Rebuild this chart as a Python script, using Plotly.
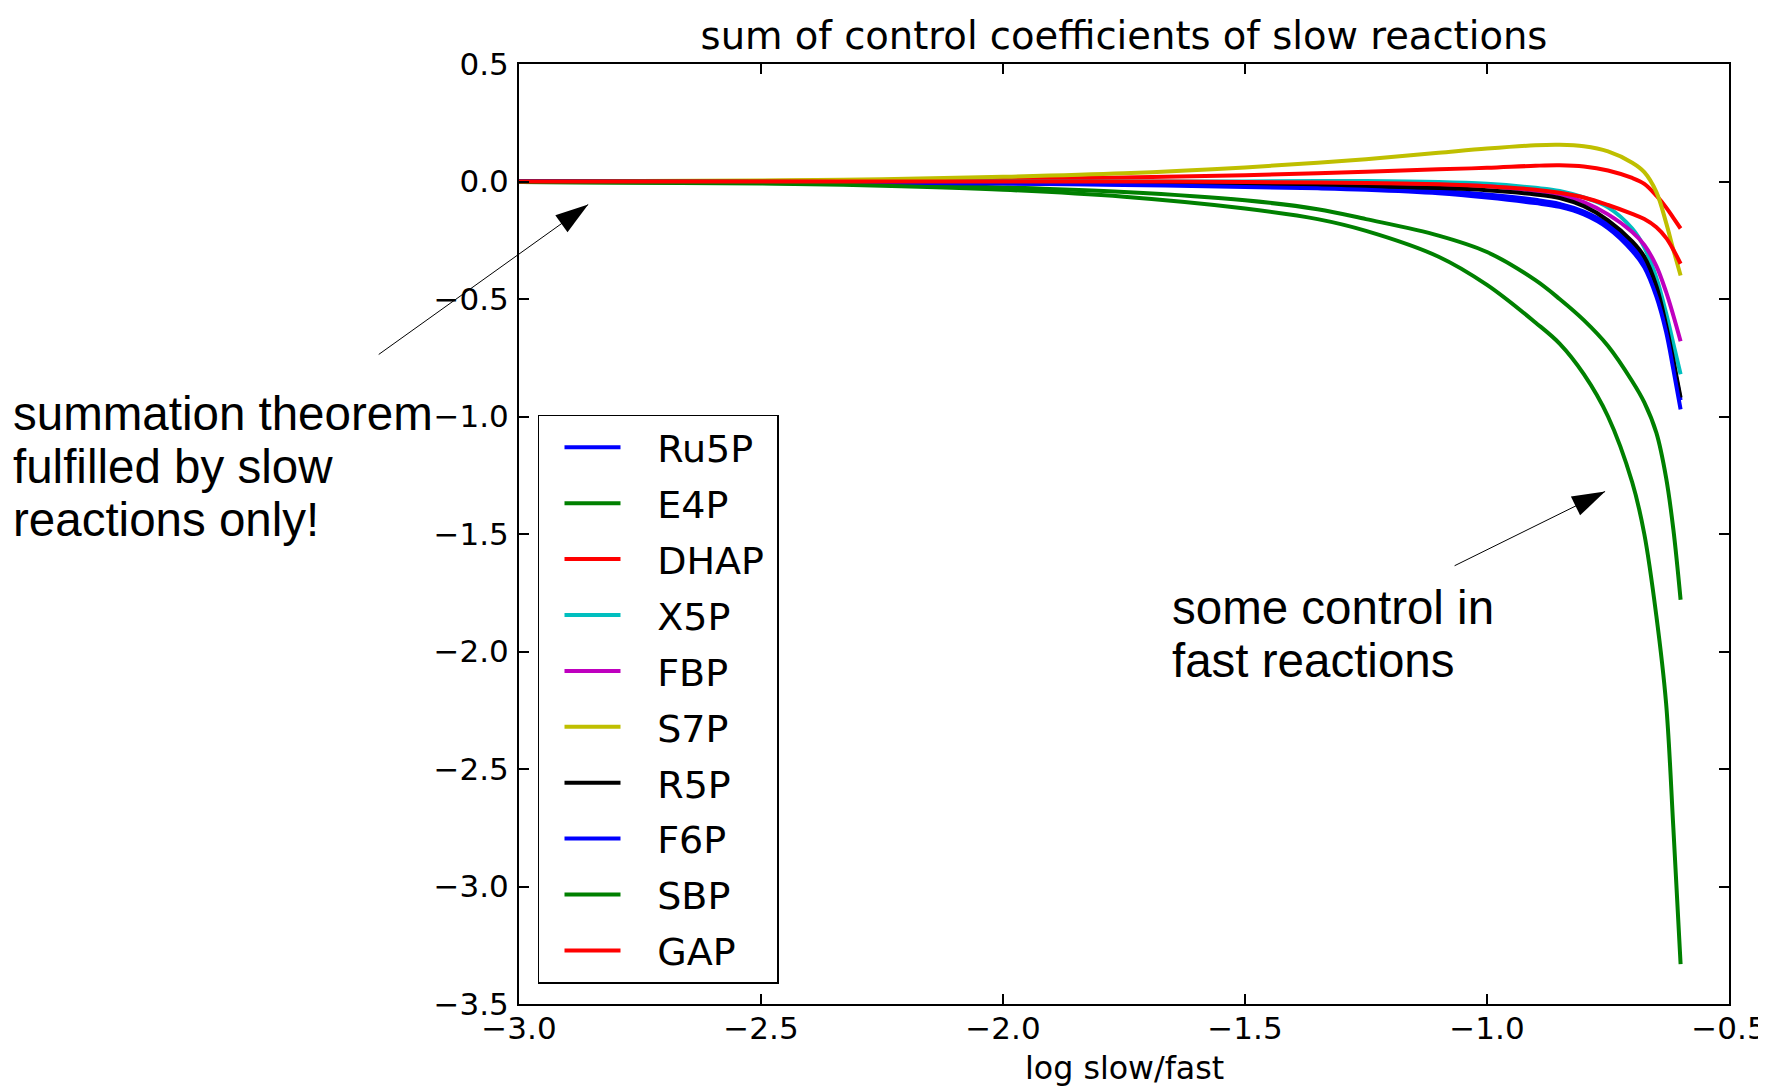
import plotly.graph_objects as go

# log slow/fast sample points
log_ratio = [-3.0, -2.5, -2.25, -2.0, -1.75, -1.5, -1.35, -1.25, -1.1, -1.0, -0.9, -0.85,
             -0.8, -0.75, -0.7, -0.675, -0.65, -0.63, -0.615, -0.6]

# sum of control coefficients of slow reactions, one list per metabolite
ru5p = [0.0, -0.002, -0.004, -0.007, -0.012, -0.019, -0.024, -0.029, -0.04, -0.055, -0.078, -0.095,
        -0.128, -0.183, -0.275, -0.345, -0.47, -0.62, -0.77, -0.93]
e4p = [-0.002, -0.006, -0.012, -0.025, -0.045, -0.08, -0.118, -0.16, -0.23, -0.3, -0.42, -0.5,
       -0.59, -0.7, -0.85, -0.94, -1.07, -1.26, -1.48, -1.78]
dhap = [0.0, 0.002, 0.005, 0.01, 0.017, 0.027, 0.035, 0.042, 0.052, 0.058, 0.067, 0.069,
        0.064, 0.047, 0.015, -0.01, -0.06, -0.11, -0.155, -0.2]
x5p = [0.0, 0.0, 0.0, 0.0, 0.0, 0.0, 0.002, 0.002, -0.002, -0.01, -0.027, -0.04,
       -0.068, -0.11, -0.2, -0.28, -0.41, -0.56, -0.69, -0.82]
fbp = [0.0, 0.0, -0.001, -0.002, -0.004, -0.006, -0.008, -0.01, -0.014, -0.02, -0.04, -0.055,
       -0.088, -0.14, -0.215, -0.27, -0.36, -0.47, -0.57, -0.68]
s7p = [0.0, 0.004, 0.01, 0.02, 0.035, 0.06, 0.08, 0.095, 0.122, 0.14, 0.154, 0.156,
       0.15, 0.128, 0.08, 0.04, -0.045, -0.175, -0.29, -0.4]
r5p = [0.0, -0.001, -0.003, -0.005, -0.009, -0.014, -0.018, -0.021, -0.028, -0.037, -0.055, -0.07,
       -0.105, -0.165, -0.255, -0.32, -0.445, -0.61, -0.76, -0.92]
f6p = [0.0, -0.002, -0.005, -0.009, -0.015, -0.023, -0.029, -0.035, -0.05, -0.068, -0.092, -0.108,
       -0.14, -0.198, -0.295, -0.365, -0.49, -0.64, -0.8, -0.97]
sbp = [-0.002, -0.008, -0.018, -0.035, -0.065, -0.115, -0.16, -0.21, -0.32, -0.44, -0.6, -0.69,
       -0.82, -1.0, -1.28, -1.5, -1.85, -2.22, -2.75, -3.33]
gap = [0.0, 0.0, 0.0, 0.0, 0.0, -0.002, -0.004, -0.006, -0.012, -0.02, -0.035, -0.048,
       -0.068, -0.1, -0.138, -0.16, -0.195, -0.24, -0.29, -0.35]

names = ['Ru5P', 'E4P', 'DHAP', 'X5P', 'FBP', 'S7P', 'R5P', 'F6P', 'SBP', 'GAP']
series = [ru5p, e4p, dhap, x5p, fbp, s7p, r5p, f6p, sbp, gap]
colors = ['#0000ff', '#008000', '#ff0000', '#00bfbf', '#bf00bf',
          '#bfbf00', '#000000', '#0000ff', '#008000', '#ff0000']

fig = go.Figure()
for name, vals, col in zip(names, series, colors):
    # non-breaking spaces leave the gap between legend line and label
    fig.add_trace(go.Scatter(x=log_ratio, y=vals, name='\u00a0\u00a0\u2009' + name + '\u2009',
                             mode='lines', legendgroup=name,
                             line=dict(color=col, width=4, shape='spline', smoothing=1.0)))

axis_style = dict(showgrid=False, zeroline=False, showline=True, linecolor='black',
                  linewidth=2, mirror='allticks', ticks='inside', ticklen=10,
                  tickwidth=1.5, tickcolor='black', dtick=0.5, tickformat='.1f',
                  automargin=False,
                  tickfont=dict(family='DejaVu Sans', size=31, color='black'))

fig.update_xaxes(range=[-3, -0.5], tick0=-3, ticklabeloverflow='allow', ticklabelstandoff=-4,
                 **axis_style)
fig.update_yaxes(range=[-3.5, 0.5], tick0=-3.5, ticklabelstandoff=2, **axis_style)

# x axis label placed below the tick labels
fig.add_annotation(text='log slow/fast', xref='paper', yref='paper', x=0.5, y=-0.0677,
                   xanchor='center', yanchor='middle', showarrow=False,
                   font=dict(family='DejaVu Sans', size=31.7, color='black'))

note_font = dict(family='Liberation Sans', size=47.5, color='black')
left_lines = ['summation theorem', 'fulfilled by slow', 'reactions only!']
for txt, yy in zip(left_lines, [0.6287, 0.5723, 0.5149]):
    fig.add_annotation(text=txt, xref='paper', yref='paper', x=-0.4201, y=yy,
                       xanchor='left', yanchor='middle', showarrow=False, font=note_font)
right_lines = ['some control in', 'fast reactions']
for txt, yy in zip(right_lines, [0.4213, 0.3649]):
    fig.add_annotation(text=txt, xref='paper', yref='paper', x=0.5379, y=yy,
                       xanchor='left', yanchor='middle', showarrow=False, font=note_font)

# arrows: thin shaft from annotation, filled head as pixel-sized path
fig.add_annotation(text='', x=-2.857, y=-0.098, ax=-211, ay=151, showarrow=True,
                   arrowhead=0, arrowwidth=1, arrowcolor='black', standoff=0)
fig.add_annotation(text='', x=-0.756, y=-1.319, ax=-152, ay=75, showarrow=True,
                   arrowhead=0, arrowwidth=1, arrowcolor='black', standoff=0)
fig.add_shape(type='path', xref='x', yref='y', xsizemode='pixel', ysizemode='pixel',
              xanchor=-2.857, yanchor=-0.098, path='M0,0 L-32.9,-10.7 L-20.7,-27.7 Z',
              fillcolor='black', line=dict(width=0))
fig.add_shape(type='path', xref='x', yref='y', xsizemode='pixel', ysizemode='pixel',
              xanchor=-0.756, yanchor=-1.319, path='M0,0 L-34.2,-5.1 L-25.0,-23.9 Z',
              fillcolor='black', line=dict(width=0))

fig.update_layout(
    width=1758, height=1080,
    margin=dict(l=511, r=37, t=56, b=84),
    paper_bgcolor='white', plot_bgcolor='white',
    title=dict(text='sum of control coefficients of slow reactions', x=0.5, xref='paper',
               y=1 - 28 / 1080, yref='container', yanchor='middle', xanchor='center',
               font=dict(family='DejaVu Sans', size=38.5, color='black')),
    legend=dict(x=0.0157, y=0.627, xanchor='left', yanchor='top',
                bgcolor='white', bordercolor='black', borderwidth=1.5,
                font=dict(family='DejaVu Sans', size=38, color='black'),
                tracegroupgap=3.5, itemwidth=56, indentation=20),
)

fig.write_html("out.html")
